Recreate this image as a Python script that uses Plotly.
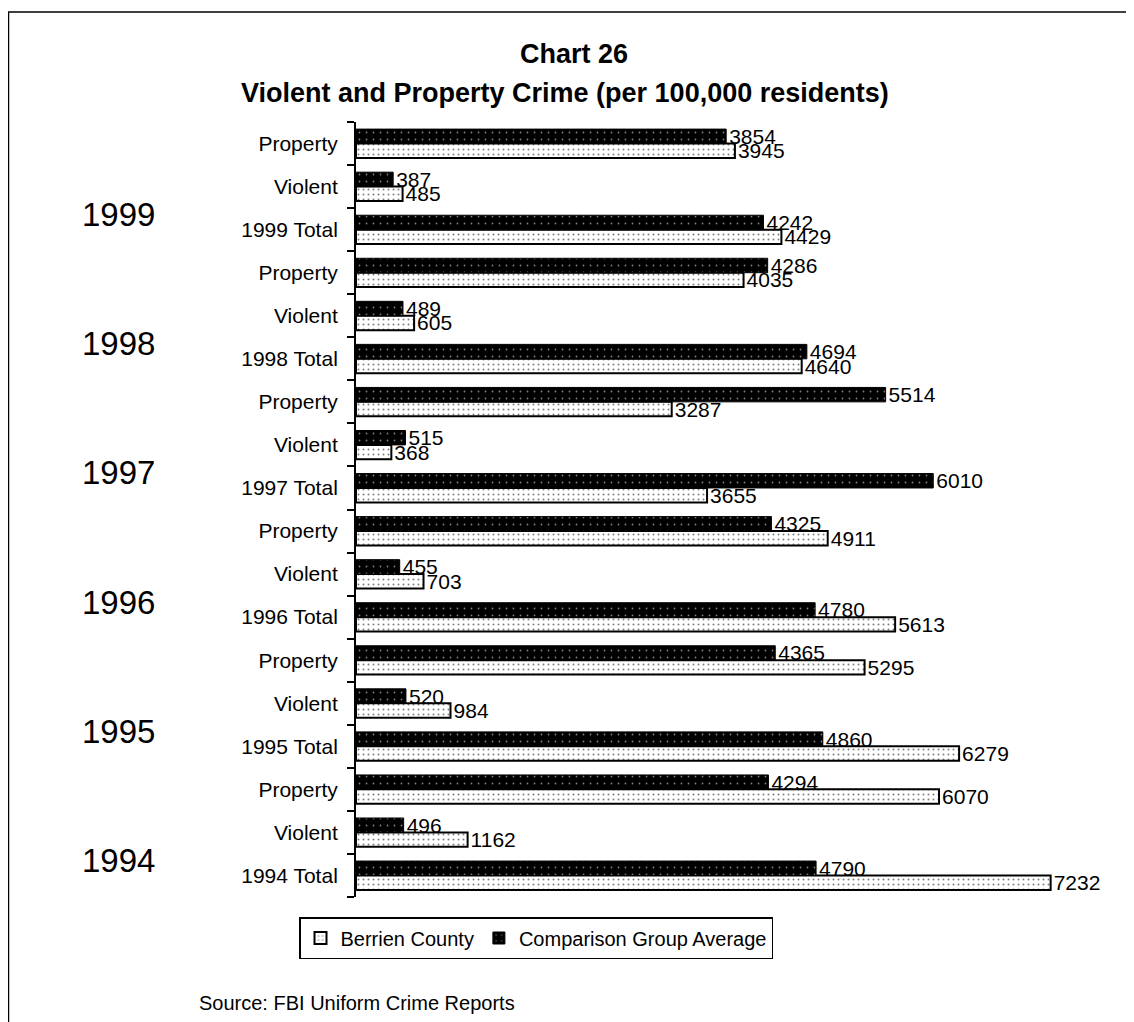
import plotly.graph_objects as go

# ---- data (bottom to top) ----
categories = ["1994 Total", "Violent", "Property",
              "1995 Total", "Violent", "Property",
              "1996 Total", "Violent", "Property",
              "1997 Total", "Violent", "Property",
              "1998 Total", "Violent", "Property",
              "1999 Total", "Violent", "Property"]
berrien = [7232, 1162, 6070,
           6279, 984, 5295,
           5613, 703, 4911,
           3655, 368, 3287,
           4640, 605, 4035,
           4429, 485, 3945]
comparison = [4790, 496, 4294,
              4860, 520, 4365,
              4780, 455, 4325,
              6010, 515, 5514,
              4694, 489, 4286,
              4242, 387, 3854]
years = ["1994", "1995", "1996", "1997", "1998", "1999"]
year_rows = [0, 3, 6, 9, 12, 15]   # index of the "Total" row for each year

OFF = 8  # page body margin
W, H = 1134 - OFF, 1022 - OFF
# plot area in page pixels: x 356..1110, y 122..897
L = 356 - OFF
T = 122 - OFF
R = W - (1110 - OFF)
B = H - (897 - OFF)
PW, PH = W - L - R, H - T - B
XMAX = 7850

def px_x(px):
    return (px - OFF - L) / PW

def px_y(py):
    return (H - B - (py - OFF)) / PH

FONT = "Liberation Sans, Arial, sans-serif"
ypos = list(range(len(categories)))

fig = go.Figure()
fig.add_trace(go.Bar(
    y=ypos, x=berrien, orientation="h", name="Berrien County",
    marker=dict(color="white", line=dict(color="black", width=2),
                pattern=dict(shape=".", fgcolor="black", bgcolor="white",
                             size=5, solidity=0.12)),
    text=[str(v) for v in berrien], textposition="outside", constraintext="none",
    textfont=dict(family=FONT, size=21, color="black"), cliponaxis=False,
))
fig.add_trace(go.Bar(
    y=ypos, x=comparison, orientation="h", name="Comparison Group Average",
    marker=dict(color="black", line=dict(color="black", width=1),
                pattern=dict(shape=".", fgcolor="white", bgcolor="black",
                             size=7, solidity=0.05)),
    text=[str(v) for v in comparison], textposition="outside", constraintext="none",
    textfont=dict(family=FONT, size=21, color="black"), cliponaxis=False,
))

annotations = [
    dict(text="<b>Chart 26</b>", x=px_x(574), y=px_y(54), xref="paper", yref="paper",
         showarrow=False, xanchor="center", yanchor="middle",
         font=dict(family=FONT, size=27, color="black")),
    dict(text="<b>Violent and Property Crime (per 100,000 residents)</b>",
         x=px_x(565), y=px_y(93), xref="paper", yref="paper",
         showarrow=False, xanchor="center", yanchor="middle",
         font=dict(family=FONT, size=27, color="black")),
    dict(text="Source: FBI Uniform Crime Reports", x=px_x(197), y=px_y(1003),
         xref="paper", yref="paper", showarrow=False, xanchor="left", yanchor="middle",
         font=dict(family=FONT, size=20, color="black")),
]
for yr, row in zip(years, year_rows):
    annotations.append(dict(text=yr, x=px_x(118), y=row + 0.35, xref="paper", yref="y",
                            showarrow=False, xanchor="center", yanchor="middle",
                            font=dict(family=FONT, size=33, color="black")))

shapes = [
    dict(type="line", xref="paper", yref="paper", x0=px_x(8), x1=px_x(1140),
         y0=px_y(12), y1=px_y(12), line=dict(color="black", width=1.5)),
    dict(type="line", xref="paper", yref="paper", x0=px_x(8.5), x1=px_x(8.5),
         y0=px_y(12), y1=px_y(1030), line=dict(color="black", width=1.5)),
]

fig.update_layout(
    width=W, height=H,
    margin=dict(l=L, r=R, t=T, b=B, autoexpand=False),
    paper_bgcolor="white", plot_bgcolor="white",
    barmode="group", bargap=0.33, bargroupgap=0.0,
    font=dict(family=FONT, color="black"),
    showlegend=True,
    legend=dict(orientation="h", x=px_x(536), y=px_y(917), xanchor="center", yanchor="top",
                xref="paper", yref="paper",
                bordercolor="black", borderwidth=1.5, bgcolor="white",
                font=dict(family=FONT, size=20, color="black"),
                itemwidth=30, traceorder="normal"),
    annotations=annotations,
    shapes=shapes,
)
fig.update_xaxes(range=[0, XMAX], visible=False, showgrid=False, zeroline=False)
fig.update_yaxes(
    range=[-0.5, len(categories) - 0.5],
    tickmode="array", tickvals=ypos, ticktext=categories,
    ticks="", showgrid=False, zeroline=False,
    showline=True, linecolor="black", linewidth=2,
    ticklabelstandoff=12,
    tickfont=dict(family=FONT, size=21, color="black"),
    minor=dict(tickmode="array", tickvals=[i - 0.5 for i in range(len(categories) + 1)],
               ticks="outside", ticklen=7, tickcolor="black", tickwidth=1.5),
)

fig.write_html("out.html")
